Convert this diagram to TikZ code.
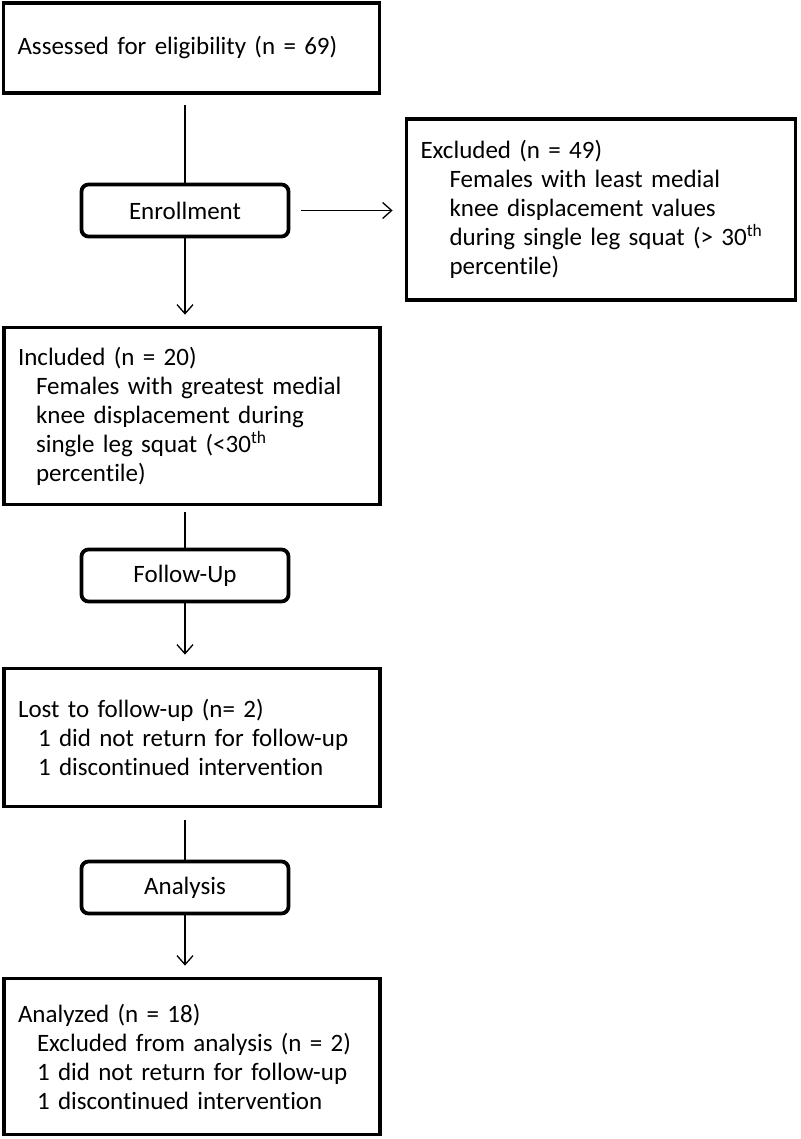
\documentclass[tikz,border=0pt]{standalone}
\usepackage{fontspec}
\setmainfont[Ligatures=NoCommon]{Carlito}
\usetikzlibrary{arrows.meta}
\begin{document}
\begin{tikzpicture}[x=1pt,y=-1pt,
  bigbox/.style={draw, line width=3.8pt, rectangle, inner xsep=14pt, inner ysep=0pt, align=left, font=\fontsize{25}{29}\selectfont},
  stagebox/.style={draw, line width=3.8pt, rounded corners=7pt, minimum width=207pt, minimum height=52pt, inner sep=0pt, font=\fontsize{25}{29}\selectfont},
  conn/.style={line width=1.3pt},
  arr/.style={conn, -{Straight Barb[length=9pt,width=16pt,line width=1.3pt]}}
]
\useasboundingbox (0,0) rectangle (800,1139);
\fill[white] (0,0) rectangle (800,1139);

\node[bigbox, minimum width=376pt, minimum height=90pt, text width=348pt] (b1) at (191.5,48) {Assessed for eligibility (n = 69)};

\node[stagebox] (enr) at (185,210.5) {Enrollment};

\node[bigbox, minimum width=389pt, minimum height=181pt, text width=361pt] (exc) at (601,209.5)
 {Excluded (n = 49)\\
  \hspace*{29pt}Females with least medial\\
  \hspace*{29pt}knee displacement values\\
  \hspace*{29pt}during single leg squat (> 30\textsuperscript{th}\\
  \hspace*{29pt}percentile)};

\node[bigbox, minimum width=376pt, minimum height=177pt, text width=348pt] (inc) at (192,416)
 {Included (n = 20)\\
  \hspace*{18pt}Females with greatest medial\\
  \hspace*{18pt}knee displacement during\\
  \hspace*{18pt}single leg squat (<30\textsuperscript{th}\\
  \hspace*{18pt}percentile)};

\node[stagebox] (fu) at (185,575.5) {Follow-Up};

\node[bigbox, minimum width=376pt, minimum height=138pt, text width=348pt] (lost) at (192,737.5)
 {Lost to follow-up (n= 2)\\
  \hspace*{20pt}1 did not return for follow-up\\
  \hspace*{20pt}1 discontinued intervention};

\node[stagebox] (ana) at (185,887.5) {Analysis};

\node[bigbox, minimum width=376pt, minimum height=156pt, text width=348pt] (anz) at (192,1056.5)
 {Analyzed (n = 18)\\
  \hspace*{19pt}Excluded from analysis (n = 2)\\
  \hspace*{19pt}1 did not return for follow-up\\
  \hspace*{19pt}1 discontinued intervention};

\draw[conn, shorten <=10pt] (enr.north |- b1.south) -- (enr.north);
\draw[arr, shorten <=11pt, shorten >=12pt] (enr.east) -- (enr.east -| exc.west);
\draw[arr, shorten >=11pt] (enr.south) -- (enr.south |- inc.north);
\draw[conn, shorten <=6pt] (fu.north |- inc.south) -- (fu.north);
\draw[arr, shorten >=12pt] (fu.south) -- (fu.south |- lost.north);
\draw[conn, shorten <=12pt] (ana.north |- lost.south) -- (ana.north);
\draw[arr, shorten >=11pt] (ana.south) -- (ana.south |- anz.north);
\end{tikzpicture}
\end{document}
